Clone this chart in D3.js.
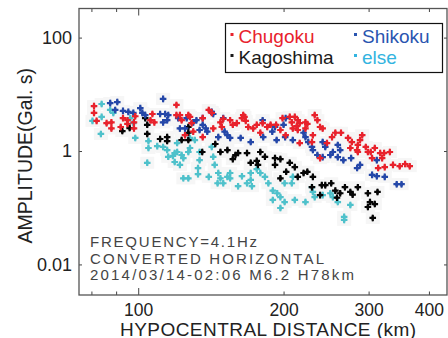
<!DOCTYPE html>
<html>
<head>
<meta charset="utf-8">
<script src="https://cdn.jsdelivr.net/npm/d3@7"></script>
<style>
  body { margin: 0; background: #fff; }
  text { font-family: Arial, "Liberation Sans", sans-serif; }
</style>
</head>
<body>
<script>
// [hypocentral distance km, amplitude Gal.s]
const chugoku = [
  [81,6.2],[81,4.7],[82,3.4],[86,3.1],[88,3.2],[88,2.5],[93,3.8],[92,2.65],[95,3.5],[95,3.0],
  [98,3.2],[98.6,4.1],[98,2.5],[107,4.5],[108,3.2],[106,3.5],[120,6.5],[120,4.3],[122,4.3],[123,3.5],
  [127,4.3],[128,4.0],[129,3.1],[125,1.9],[130,2.2],[136,3.8],[136,1.76],[140,5.3],[142,4.7],[143,2.5],
  [148,3.2],[149,2.65],[150,3.7],[155,3.5],[157,2.9],[160,3.1],[164,3.8],[165,4.3],[166,4.0],[167,3.4],
  [169,2.65],[173,2.5],[176,2.9],[179,2.1],[181,3.1],[185,2.65],[188,2.9],[193,2.9],[197,2.35],[199,3.8],
  [206,4.0],[208,3.2],[211,4.0],[213,2.75],[214,3.5],[216,3.1],[222,3.2],[224,3.0],[222,2.5],[209,2.5],
  [214,2.35],[232,4.3],[235,3.5],[238,2.65],[241,2.5],[230,1.9],[202,1.9],[256,2.1],[263,2.1],[252,1.76],
  [272,1.7],[277,1.44],[285,1.28],[288,1.56],[291,1.9],[275,1.13],[284,1.04],[299,0.96],[309,1.13],[317,0.92],
  [216,1.38],[229,1.44],[246,1.38],[238,0.75],[285,0.96],[305,0.75],[320,0.75],[323,0.92],[332,0.96],[337,0.57],
  [324,0.52],[314,0.5],[348,0.54],[357,0.59],[365,0.54],[296,1.18],[303,0.96]
];
const shikoku = [
  [87.5,7.0],[90.5,7.3],[89.6,5.3],[93,5.1],[95.4,4.9],[97.7,4.7],[101,5.7],[102,4.7],[103.4,4.3],[112.6,8.3],
  [111,4.5],[113.7,4.5],[114.8,3.5],[112.6,3.2],[115.4,4.3],[121,3.8],[122,2.5],[126,3.8],[130,3.2],[125,2.5],
  [132,3.5],[134,2.35],[136,2.9],[136,3.8],[138,2.5],[139,2.2],[142,4.9],[143,4.5],[146.5,1.76],[150,3.8],
  [151,2.2],[153,1.9],[155,1.7],[163,1.7],[171,1.44],[181,3.5],[181.5,1.76],[189.5,2.2],[192,2.65],[193.5,1.56],
  [202,3.8],[200,2.9],[201.5,1.76],[209,1.56],[220,2.1],[222,1.76],[225,1.44],[229,1.18],[230,1.04],[241,1.44],
  [244,1.18],[259,1.28],[262,1.04],[253,0.96],[235,0.85],[241,0.78],[250,0.85],[259,0.78],[266,0.69],[276,0.75],
  [284,0.5],[288,0.57],[305,0.38],[312,0.36],[343,0.26],[351,0.26],[312,0.69],[324,0.35]
];
const kagoshima = [
  [92.7,2.25],[96,2.54],[103.4,3.8],[104.4,2.0],[104.4,2.9],[111,1.63],[114.8,1.76],[114.8,1.5],[123,1.56],[127,2.1],
  [127,2.65],[127,1.56],[135.7,0.96],[144.4,1.33],[148,0.96],[153,1.04],[159,0.85],[161,0.92],[157,0.72],[168,0.92],
  [179,0.96],[171,0.62],[176,0.67],[177,0.57],[183,0.79],[192,0.75],[197,0.72],[192,0.57],[202.5,0.43],[197,0.33],
  [206,0.62],[211,0.52],[214,0.35],[220,0.41],[224,0.43],[230,0.35],[229,0.23],[240,0.25],[244,0.25],[251,0.27],
  [256,0.2],[262,0.18],[258,0.15],[268,0.23],[275,0.19],[285,0.23],[278,0.17],[299,0.18],[313,0.19],[302,0.126],
  [309,0.116],[299,0.103],[306,0.066],[238,0.167]
];
const others = [
  [80.4,3.4],[84,6.75],[84,4.0],[83.7,2.0],[87.5,5.3],[88.8,4.7],[96.3,3.8],[97.7,3.1],[98.6,1.7],[105,1.5],
  [105,1.13],[109.5,1.22],[112.6,1.18],[114.8,1.04],[120.4,0.96],[120.4,1.38],[123,0.85],[118,0.82],[128,1.13],[131,1.56],
  [128,1.7],[134,0.96],[134,0.69],[104.4,0.62],[115.4,0.79],[119,0.92],[119,0.64],[122,0.57],[124,0.33],[127,0.96],
  [124,0.75],[133,0.5],[133,0.39],[127,0.33],[142,1.18],[143,0.79],[144,0.57],[140,0.35],[146.5,0.41],[148,0.33],
  [150,0.27],[146,0.27],[155,0.41],[155,0.33],[161,0.24],[164,0.36],[171,0.41],[171,0.31],[168,0.27],[172,0.24],
  [176,0.48],[179,0.41],[183,0.35],[186,0.27],[190,0.2],[194,0.18],[190,0.137],[197,0.099],[197,0.154],[201,0.27],
  [201,0.126],[209,0.35],[208,0.27],[211,0.137],[222,0.126],[229,0.23],[230,0.19],[232,0.154],[241,0.167],[250,0.18],
  [253,0.154],[259,0.126],[275,0.112],[267,0.069],[267,0.061],[153,0.35]
];

const seriesNames = ["Chugoku", "Shikoku", "Kagoshima", "else"];
const xTicks = [80, 90, 100, 200, 300, 400];
const xTickLabels = [100, 200, 300, 400];
const yTicks = [0.01, 1, 100];
const notes = ["FREQUENCY=4.1Hz", "CONVERTED HORIZONTAL", "2014/03/14-02:06 M6.2 H78km"];

const W = 448, H = 338;
const L = 79, R = 447, T = 8.5, B = 295;

const x = d3.scaleLog().domain([75.4, 436]).range([L, R]);
const y = d3.scaleLog().domain([0.00289, 326]).range([B, T]);

const series = [
  { name: "else", data: others, color: "#4fc1cb", text: "#33b4e0" },
  { name: "Kagoshima", data: kagoshima, color: "#050505", text: "#1a1a1a" },
  { name: "Shikoku", data: shikoku, color: "#2447a8", text: "#2a55b0" },
  { name: "Chugoku", data: chugoku, color: "#e8222c", text: "#e8222c" }
];

const svg = d3.select("body").append("svg")
  .attr("width", W).attr("height", H)
  .attr("viewBox", [0, 0, W, H]);

// faint grey blocks behind the points
svg.append("g").selectAll("rect")
  .data(series.flatMap(s => s.data))
  .join("rect")
  .attr("x", d => x(d[0]) - 7).attr("y", d => y(d[1]) - 6)
  .attr("width", 14).attr("height", 12)
  .attr("fill", "#f6f6f6");

const cross = d3.symbol().type(d3.symbolCross).size(24);
const diamond = d3.symbol().type(d3.symbolDiamond).size(14);
series.forEach(s => {
  const g = svg.append("g").attr("fill", s.color);
  g.selectAll("path.c")
    .data(s.data)
    .join("path")
    .attr("class", "c")
    .attr("transform", d => `translate(${x(d[0])},${y(d[1])})`)
    .attr("d", cross);
  g.selectAll("path.d")
    .data(s.data)
    .join("path")
    .attr("class", "d")
    .attr("transform", d => `translate(${x(d[0])},${y(d[1])})`)
    .attr("d", diamond);
});

// axes with inward ticks
const tickLen = d => (d === 100 ? 7 : 3.5);
svg.append("g")
  .attr("transform", `translate(0,${B})`)
  .call(d3.axisBottom(x).tickValues(xTicks).tickSize(0).tickPadding(8.5)
    .tickFormat(d => xTickLabels.includes(d) ? d : ""))
  .call(g => g.select(".domain").remove())
  .call(g => g.selectAll(".tick line").attr("y2", d => -tickLen(d)).attr("stroke", "#444"))
  .call(g => g.selectAll("text").attr("font-size", 17.5).attr("fill", "#222"));

svg.append("g")
  .attr("transform", `translate(0,${T})`)
  .call(d3.axisTop(x).tickValues(xTicks).tickSize(0).tickFormat(""))
  .call(g => g.select(".domain").remove())
  .call(g => g.selectAll(".tick line").attr("y2", d => tickLen(d)).attr("stroke", "#444"));

svg.append("g")
  .attr("transform", `translate(${L},0)`)
  .call(d3.axisLeft(y).tickValues(yTicks).tickSize(-3).tickPadding(7).tickFormat(d => String(d)))
  .call(g => g.select(".domain").remove())
  .call(g => g.selectAll(".tick line").attr("stroke", "#444"))
  .call(g => g.selectAll("text").attr("font-size", 18).attr("fill", "#222"));

svg.append("g")
  .attr("transform", `translate(${R},0)`)
  .call(d3.axisRight(y).tickValues(yTicks).tickSize(-3).tickFormat(""))
  .call(g => g.select(".domain").remove())
  .call(g => g.selectAll(".tick line").attr("stroke", "#444"));

svg.append("rect")
  .attr("x", L).attr("y", T).attr("width", R - L).attr("height", B - T)
  .attr("fill", "none").attr("stroke", "#555").attr("stroke-width", 1.3);

// axis titles
svg.append("text")
  .attr("transform", `translate(31.5,${(T + B) / 2 + 4}) rotate(-90)`)
  .attr("text-anchor", "middle").attr("font-size", 19.5).attr("fill", "#222")
  .text("AMPLITUDE(Gal. s)");

svg.append("text")
  .attr("x", 268).attr("y", 335.5)
  .attr("text-anchor", "middle").attr("font-size", 19).attr("fill", "#222")
  .attr("textLength", 296).attr("lengthAdjust", "spacing")
  .text("HYPOCENTRAL DISTANCE (km)");

// legend
const legend = svg.append("g");
legend.append("rect")
  .attr("x", 225.5).attr("y", 23.5).attr("width", 217).attr("height", 49)
  .attr("fill", "#fff").attr("stroke", "#111").attr("stroke-width", 1.2);

const legendOrder = seriesNames.map(n => series.find(s => s.name === n));
legendOrder.forEach((s, i) => {
  const col = i % 2, row = Math.floor(i / 2);
  const lx = col ? 354 : 230.5, ly = row ? 64 : 43;
  legend.append("rect")
    .attr("x", lx).attr("y", ly - 10).attr("width", 3).attr("height", 3)
    .attr("fill", s.text);
  legend.append("text")
    .attr("x", lx + 8).attr("y", ly)
    .attr("font-size", 19).attr("fill", s.text)
    .text(s.name);
});

// annotation
const noteWidths = [167, 234, 264];
svg.append("g").selectAll("text")
  .data(notes)
  .join("text")
  .attr("x", 90).attr("y", (d, i) => 247 + i * 16.7)
  .attr("font-size", 15).attr("fill", "#444")
  .attr("textLength", (d, i) => noteWidths[i]).attr("lengthAdjust", "spacing")
  .text(d => d);
</script>
</body>
</html>
